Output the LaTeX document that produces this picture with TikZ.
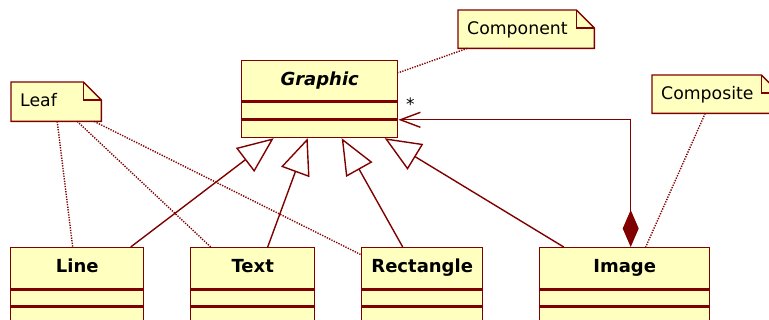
\documentclass[tikz,border=0pt]{standalone}
\usepackage{fontspec}
\setmainfont{DejaVu Sans}
\usetikzlibrary{arrows.meta,calc,backgrounds}
\definecolor{umlred}{RGB}{128,0,0}
\definecolor{umlfill}{RGB}{255,255,192}
\newcommand\umlclass[7]{% name, nw position, width, head height, part a height, part b height, text
  \node[classhead, minimum width=#3pt, minimum height=#4pt] (#1) at #2 {#7};
  \node[classpart, minimum width=#3pt, minimum height=#5pt] (#1-a) at (#1.south) {};
  \node[classpart, minimum width=#3pt, minimum height=#6pt] (#1-b) at (#1-a.south) {};
}
\newcommand\umlnote[6]{% name, nw position, width, height, text width, text
  \node[notebox, minimum width=#3pt, minimum height=#4pt, text width=#5pt] (#1) at #2 {#6};
  \begin{scope}[on background layer]
    \draw[noteline] (#1.north west) -- ([xshift=-18pt]#1.north east) -- ([yshift=-18pt]#1.north east) -- (#1.south east) -- (#1.south west) -- cycle;
  \end{scope}
  \draw[noteline, fill=none] ([xshift=-18pt]#1.north east) |- ([yshift=-18pt]#1.north east);
}
\begin{document}
\begin{tikzpicture}[x=1pt,y=-1pt,
  classhead/.style={draw=umlred, fill=umlfill, line width=1.4pt, anchor=north west, inner sep=0pt,
    text height=13pt, text depth=4pt, font=\fontsize{18}{21}\selectfont\bfseries},
  classpart/.style={draw=umlred, fill=umlfill, line width=1.4pt, anchor=north, inner sep=0pt},
  notebox/.style={anchor=north west, inner xsep=9pt, inner ysep=0pt, align=left,
    text height=13pt, text depth=3pt, font=\fontsize{17.3}{20}\selectfont},
  noteline/.style={draw=umlred, fill=umlfill, line width=1.4pt, line join=miter},
  gen/.style={draw=umlred, line width=1.4pt, line join=miter,
    -{Triangle[open, length=36pt, width=30pt, line width=1.4pt]}},
  agg/.style={draw=umlred, line width=1.4pt, line join=miter,
    {Diamond[length=37pt, width=16pt, fill=umlred]}-{Straight Barb[length=20pt, width=15pt, line width=1.4pt]}},
  dots/.style={draw=umlred, line width=1.4pt, dash pattern=on 1.3pt off 1.3pt},
  mult/.style={inner sep=0pt, font=\fontsize{17}{20}\selectfont},
]
\useasboundingbox (0,0) rectangle (769,320);

% classes
\umlclass{graphic}{(241,60)}{156}{40}{17}{17}{\itshape Graphic}
\umlclass{line}{(10,247)}{133}{41}{16}{40}{Line}
\umlclass{text}{(190,247)}{124}{41}{16}{40}{Text}
\umlclass{rect}{(361,247)}{121}{41}{16}{40}{Rectangle}
\umlclass{image}{(539,247)}{170}{41}{16}{40}{Image}

% notes
\umlnote{component}{(458,10)}{136}{38}{118}{Component}
\umlnote{leaf}{(11,82)}{90}{39}{72}{Leaf}
\umlnote{composite}{(652,75)}{127}{38}{109}{Composite}

% generalizations
\draw[gen] ([xshift=53.5pt]line.north) -- ([xshift=-46pt]graphic-b.south);
\draw[gen] ([xshift=15pt]text.north) -- ([xshift=-12pt]graphic-b.south);
\draw[gen] ([xshift=-19.5pt]rect.north) -- ([xshift=22pt]graphic-b.south);
\draw[gen] ([xshift=-61pt]image.north) -- ([xshift=65pt]graphic-b.south);

% aggregation (composition)
\draw[agg] ([xshift=6pt]image.north) |- (graphic-a.south east);
\node[mult] (mult) at ([xshift=12pt,yshift=-3pt]graphic-a.north east) {*};

% note anchors
\draw[dots] ([xshift=-59pt]component.south) -- ([yshift=8pt]graphic.east);
\draw[dots] ([xshift=1pt]leaf.south) -- ([xshift=-4.5pt]line.north);
\draw[dots] ([xshift=21pt]leaf.south) -- ([xshift=-42pt]text.north);
\draw[dots] ([xshift=38pt]leaf.south) -- ([yshift=13.5pt]rect.west);
\draw[dots] ([xshift=-10.5pt]composite.south) -- ([xshift=21pt]image.north);
\end{tikzpicture}
\end{document}
